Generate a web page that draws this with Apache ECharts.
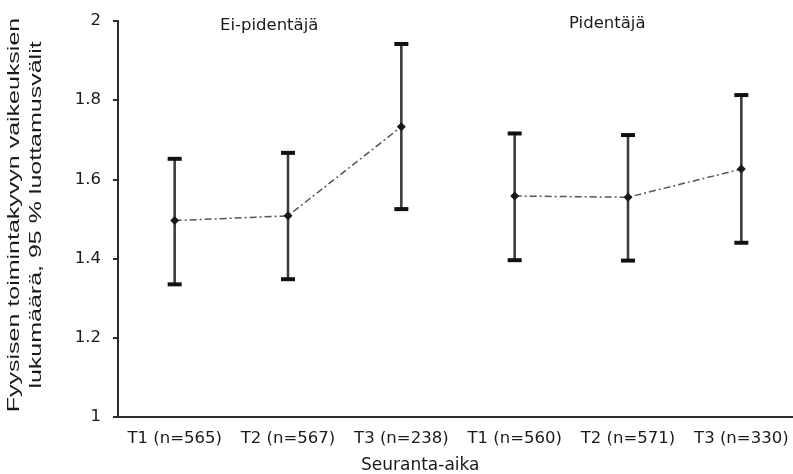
<!DOCTYPE html>
<html>
<head>
<meta charset="utf-8">
<script src="https://cdn.jsdelivr.net/npm/echarts@6/dist/echarts.min.js"></script>
<style>
  html, body { margin: 0; padding: 0; background: #fff; }
  #chart { width: 793px; height: 474px; }
</style>
</head>
<body>
<div id="chart"></div>
<script>
// Follow-up time points with group sizes
const categories = ['T1 (n=565)', 'T2 (n=567)', 'T3 (n=238)', 'T1 (n=560)', 'T2 (n=571)', 'T3 (n=330)'];

// Ei-pidentäjä group: mean and 95 % CI
const eiMean  = [1.496, 1.508, 1.733, null, null, null];
const eiLower = [1.335, 1.348, 1.525, null, null, null];
const eiUpper = [1.652, 1.667, 1.942, null, null, null];

// Pidentäjä group: mean and 95 % CI
const piMean  = [null, null, null, 1.558, 1.555, 1.626];
const piLower = [null, null, null, 1.396, 1.395, 1.440];
const piUpper = [null, null, null, 1.716, 1.712, 1.813];

const yTicks = { min: 1, max: 2, interval: 0.2 };

const yTitle = 'Fyysisen toimintakyvyn vaikeuksien\nlukumäärä, 95 % luottamusvälit';
const xTitle = 'Seuranta-aika';
const groupNames = ['Ei-pidentäjä', 'Pidentäjä'];

const FONT = 'DejaVu Sans';
const INK = '#1a1a1a';
const AXIS = '#2b2b2b';

// error bar rows: [categoryIndex, lower, upper]
const ciRows = [];
categories.forEach((c, i) => {
  if (eiMean[i] != null) ciRows.push([i, eiLower[i], eiUpper[i]]);
  if (piMean[i] != null) ciRows.push([i, piLower[i], piUpper[i]]);
});

const chart = echarts.init(document.getElementById('chart'), null, { renderer: 'canvas' });

chart.setOption({
  animation: false,
  backgroundColor: '#ffffff',
  grid: { left: 118, right: -5, top: 21, bottom: 57, containLabel: false, outerBoundsMode: 'none' },
  xAxis: {
    type: 'category',
    data: categories,
    boundaryGap: true,
    axisLine: { lineStyle: { color: AXIS, width: 2 } },
    axisTick: { alignWithLabel: true, interval: 0, length: 5, lineStyle: { color: AXIS, width: 2 } },
    axisLabel: { interval: 0, hideOverlap: false, color: INK, fontFamily: FONT, fontSize: 16.5, margin: 13 },
    splitLine: { show: false }
  },
  yAxis: {
    type: 'value',
    min: yTicks.min,
    max: yTicks.max,
    interval: yTicks.interval,
    axisLine: { show: true, lineStyle: { color: AXIS, width: 2 } },
    axisTick: { show: true, length: 5, lineStyle: { color: AXIS, width: 2 } },
    axisLabel: { color: INK, fontFamily: FONT, fontSize: 16.5, margin: 17 },
    splitLine: { show: false }
  },
  graphic: [
    { type: 'text', left: 220, top: 17, style: { text: groupNames[0], fill: INK, font: '16.5px "DejaVu Sans"' } },
    { type: 'text', left: 569, top: 15, style: { text: groupNames[1], fill: INK, font: '16.5px "DejaVu Sans"' } },
    { type: 'text', left: 361, top: 457, style: { text: xTitle, fill: INK, font: '17px "DejaVu Sans"' } },
    {
      // vertical axis title, two lines, stretched along the reading direction
      type: 'text',
      x: 25,
      y: 215,
      rotation: Math.PI / 2,
      scaleX: 1.47,
      style: {
        text: yTitle,
        fill: INK,
        font: '17px "Liberation Sans"',
        align: 'center',
        verticalAlign: 'middle',
        lineHeight: 22
      }
    }
  ],
  series: [
    {
      name: 'CI',
      type: 'custom',
      data: ciRows,
      z: 2,
      renderItem: function (params, api) {
        const x = api.value(0);
        const lo = api.coord([x, api.value(1)]);
        const hi = api.coord([x, api.value(2)]);
        const capW = 14;
        const stroke = { stroke: '#3d3d3d', lineWidth: 2.6 };
        const capStyle = { stroke: '#111', lineWidth: 4 };
        return {
          type: 'group',
          children: [
            { type: 'line', shape: { x1: lo[0], y1: lo[1], x2: hi[0], y2: hi[1] }, style: stroke },
            { type: 'line', shape: { x1: hi[0] - capW / 2, y1: hi[1], x2: hi[0] + capW / 2, y2: hi[1] }, style: capStyle },
            { type: 'line', shape: { x1: lo[0] - capW / 2, y1: lo[1], x2: lo[0] + capW / 2, y2: lo[1] }, style: capStyle }
          ]
        };
      }
    },
    {
      name: groupNames[0],
      type: 'line',
      data: eiMean,
      z: 3,
      connectNulls: false,
      symbol: 'diamond',
      symbolSize: 9,
      itemStyle: { color: '#1a1a1a' },
      lineStyle: { color: '#555', width: 1.5, type: [7, 3, 2, 3] }
    },
    {
      name: groupNames[1],
      type: 'line',
      data: piMean,
      z: 3,
      connectNulls: false,
      symbol: 'diamond',
      symbolSize: 9,
      itemStyle: { color: '#1a1a1a' },
      lineStyle: { color: '#555', width: 1.5, type: [7, 3, 2, 3] }
    }
  ]
});
</script>
</body>
</html>
